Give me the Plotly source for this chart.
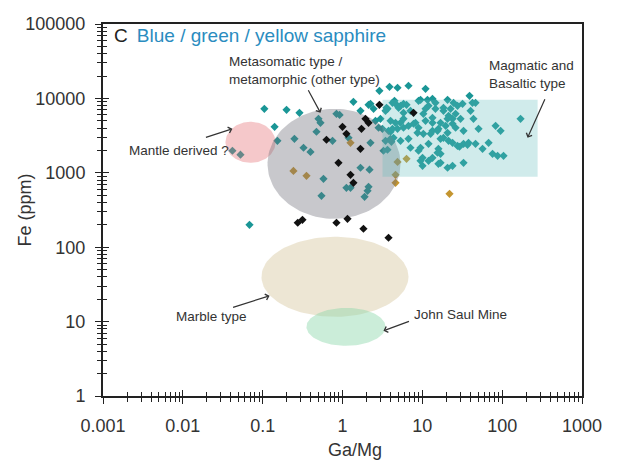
import numpy as np
import plotly.graph_objects as go

# ---------------- data (Ga/Mg ratio, Fe ppm) ----------------
teal_gamg = [0.105, 0.199, 0.289, 0.141, 0.153, 0.25, 0.325, 0.397, 0.472, 0.5, 0.53, 0.0418, 0.0527, 0.0684, 0.578, 0.545,
             1.37, 2.12, 1.68, 3.66, 0.84, 0.92, 0.75, 1.19, 2.59, 2.83, 2.24, 3.66, 4.1, 1.68, 2.18, 1.12, 1.26, 2.12, 2.06, 1.89, 4.0, 4.89,
             2.9, 3.88, 4.89, 6.71, 10.97, 2.24, 3.56, 5.04, 6.34, 5.81, 4.23, 8.96, 11.6, 11.96, 10.3, 14.6, 20.7, 24.6, 27.6, 31.9,
             39, 46.4, 40.2, 18.4, 21.3, 26.1, 2.99, 4.0, 5.33, 6.71, 8.2, 13.4, 16.9, 20.7, 23.9, 30.1, 43.7, 8.7, 10.3, 13.4, 15.9,
             20.7, 26.1, 32.8, 50.6, 82.7, 95.5, 170, 3.16, 4.23, 5.81, 3.46, 4.36, 5.33, 7.1, 8.96, 11.96, 16.9, 21.3, 27.6, 32.8,
             37.9, 46.4, 56.8, 67.6, 75.8, 104, 10.06, 11.96, 16.9, 15.9, 20.7, 23.9, 32.8, 10.06, 3.26,
             42.5, 18.4, 22.6, 14.6, 23.9, 13.4, 19.6, 15.5, 18.4, 23.9, 29.2, 36.8, 15.9, 13.4, 16.9, 87.6,
             4.48, 5.81, 9.5, 13.4, 4.62, 5.33, 7.1, 2.45, 3.46, 10.97, 10.97, 4.62, 5.81, 7.76, 8.96, 12.7, 3.77, 6.71, 4.0, 9.5,
             9.5, 15.5]
teal_fe = [7250, 7030, 6400, 4150, 2690, 2860, 2170, 1910, 3560, 5320, 4700, 1980, 1750, 200, 830, 491,
           9000, 8200, 6810, 7250, 6210, 6000, 2690, 2950, 5000, 4030, 2530, 2040, 2610, 1170, 1100, 629, 629, 648, 573, 476, 3560, 3900,
           12650, 14300, 13900, 14800, 13450, 8460, 7470, 7470, 8200, 6400, 8730, 9290, 9570, 7950, 6210, 7250, 9570, 8730, 7950, 8460,
           10840, 8730, 6810, 6810, 5840, 6210, 5320, 5000, 4700, 4280, 4700, 4700, 4700, 5320, 4560, 5320, 5320, 3450, 3340, 3670, 3900,
           3450, 4030, 3670, 3900, 4280, 3670, 5320, 3900, 3900, 4030, 2690, 2950, 2690, 2170, 1980, 2450, 2860, 2690, 2300, 2450,
           2530, 2450, 2100, 2530, 1800, 1690, 1590, 1450, 1800, 1320, 1170, 1240, 1360, 1240, 1980,
           8730, 7470, 7250, 8730, 5320, 5490, 4280, 3670, 2950, 2530, 2240, 2380, 2100, 1590, 1360, 1690,
           9290, 8460, 9570, 9880, 8460, 7950, 6810, 7250, 6810, 7250, 5000, 4700, 5320, 4560, 4030, 3340, 3670, 2860, 2860, 2170,
           1450, 1860]

black_gamg = [2.9, 7.76, 1.94, 2.12, 1.0, 1.73, 0.63, 1.12, 1.68, 0.89, 1.26, 1.37, 0.315, 0.275, 0.84, 1.155, 1.83, 3.77]
black_fe = [8200, 6400, 5320, 4700, 4150, 3900, 2780, 3340, 2100, 1360, 940, 734, 233, 213, 213, 241, 177, 134]

gold_gamg = [0.243, 0.354, 1.26, 4.89, 6.34, 4.62, 4.62, 21.9]
gold_fe = [1060, 911, 2530, 1400, 1540, 940, 734, 522]

# field regions: (Ga/Mg min, Ga/Mg max), (Fe min, Fe max)
mantle_x, mantle_y = [0.0342, 0.145], [1360, 4850]
meta_x, meta_y = [0.115, 5.33], [241, 7250]
magm_x, magm_y = [3.17, 278], [884, 9570]
marble_x, marble_y = [0.0966, 6.71], [11.6, 138]
jsm_x, jsm_y = [0.354, 3.46], [4.73, 15.3]

x_tickvals = [0.001, 0.01, 0.1, 1, 10, 100, 1000]
x_ticktext = ["0.001", "0.01", "0.1", "1", "10", "100", "1000"]
y_tickvals = [1, 10, 100, 1000, 10000, 100000]
y_ticktext = ["1", "10", "100", "1000", "10000", "100000"]

FONT = "Liberation Sans, Arial, sans-serif"
TEAL = "#1a9696"
GOLD = "#c4952f"
BLACK = "#111111"


def ellipse(xr, yr, n=120):
    lx, ly = np.log10(xr), np.log10(yr)
    cx, cy = lx.mean(), ly.mean()
    rx, ry = (lx[1] - lx[0]) / 2, (ly[1] - ly[0]) / 2
    t = np.linspace(0, 2 * np.pi, n)
    return 10 ** (cx + rx * np.cos(t)), 10 ** (cy + ry * np.sin(t))


def region_trace(xs, ys, color):
    return go.Scatter(x=xs, y=ys, mode="lines", fill="toself", fillcolor=color,
                      line=dict(width=0), hoverinfo="skip", showlegend=False)


fig = go.Figure()
fig.add_trace(go.Scatter(x=teal_gamg, y=teal_fe, mode="markers", showlegend=False,
                         marker=dict(symbol="diamond", size=6.3, color=TEAL, line=dict(width=0))))
fig.add_trace(go.Scatter(x=gold_gamg, y=gold_fe, mode="markers", showlegend=False,
                         marker=dict(symbol="diamond", size=6.3, color=GOLD, line=dict(width=0))))

ex, ey = ellipse(mantle_x, mantle_y)
fig.add_trace(region_trace(ex, ey, "rgba(230,110,115,0.38)"))
ex, ey = ellipse(meta_x, meta_y)
fig.add_trace(region_trace(ex, ey, "rgba(110,110,122,0.38)"))
fig.add_trace(region_trace([magm_x[0], magm_x[1], magm_x[1], magm_x[0], magm_x[0]],
                           [magm_y[0], magm_y[0], magm_y[1], magm_y[1], magm_y[0]], "rgba(100,190,190,0.30)"))
ex, ey = ellipse(marble_x, marble_y)
fig.add_trace(region_trace(ex, ey, "rgba(215,200,160,0.45)"))
ex, ey = ellipse(jsm_x, jsm_y)
fig.add_trace(region_trace(ex, ey, "rgba(140,215,170,0.45)"))

fig.add_trace(go.Scatter(x=black_gamg, y=black_fe, mode="markers", showlegend=False,
                         marker=dict(symbol="diamond", size=6.3, color=BLACK, line=dict(width=0))))

# invisible trace for the inner-tick overlay axes
fig.add_trace(go.Scatter(x=[1], y=[1], xaxis="x2", yaxis="y2", mode="markers",
                         marker=dict(opacity=0), hoverinfo="skip", showlegend=False))

minor_x = [m * 10.0 ** k for k in range(-3, 3) for m in range(2, 10)]
minor_y = [m * 10.0 ** k for k in range(0, 5) for m in range(2, 10)]

axis_common = dict(type="log", showgrid=False, zeroline=False, tickcolor="#222", tickwidth=1.4)

fig.update_layout(
    width=618, height=462, autosize=False,
    margin=dict(l=103, r=36, t=24, b=66),
    paper_bgcolor="white", plot_bgcolor="white",
    font=dict(family=FONT, color="#333"),
    xaxis=dict(**axis_common, range=[-3, 3], showline=True, linewidth=2, linecolor="#222", mirror=True,
               ticks="outside", ticklen=6, tickmode="array", tickvals=x_tickvals, ticktext=x_ticktext,
               tickfont=dict(size=18, color="#333", family=FONT), ticklabelstandoff=6,
               minor=dict(ticks="outside", ticklen=4, tickwidth=1.2, tickcolor="#222", tickmode="array", tickvals=minor_x)),
    yaxis=dict(**axis_common, range=[0, 5], showline=True, linewidth=2, linecolor="#222", mirror=True,
               ticks="outside", ticklen=6, tickmode="array", tickvals=y_tickvals, ticktext=y_ticktext,
               tickfont=dict(size=18, color="#333", family=FONT), ticklabelstandoff=6,
               minor=dict(ticks="outside", ticklen=4, tickwidth=1.2, tickcolor="#222", tickmode="array", tickvals=minor_y)),
    xaxis2=dict(**axis_common, range=[-3, 3], overlaying="x", anchor="y", side="bottom", showline=False,
                ticks="inside", ticklen=6, tickmode="array", tickvals=x_tickvals, showticklabels=False,
                minor=dict(ticks="inside", ticklen=4, tickwidth=1.2, tickcolor="#222", tickmode="array", tickvals=minor_x)),
    yaxis2=dict(**axis_common, range=[0, 5], overlaying="y", anchor="x", side="left", showline=False,
                ticks="inside", ticklen=6, tickmode="array", tickvals=y_tickvals, showticklabels=False,
                minor=dict(ticks="inside", ticklen=4, tickwidth=1.2, tickcolor="#222", tickmode="array", tickvals=minor_y)),
)

ann_font = dict(family=FONT, size=13.5, color="#333")
annotations = [
    dict(xref="paper", yref="paper", x=0.018, y=0.970, xanchor="left", yanchor="middle", showarrow=False,
         text="<span style='color:#222'>C</span>\u2009\u00a0<span style='color:#2a8cc0'>Blue / green / yellow sapphire</span>",
         font=dict(family=FONT, size=19)),
    dict(xref="paper", yref="paper", x=0.526, y=-0.145, xanchor="center", yanchor="middle", showarrow=False,
         text="Ga/Mg", font=dict(family=FONT, size=18, color="#333")),
    dict(xref="paper", yref="paper", x=-0.162, y=0.5, xanchor="center", yanchor="middle", showarrow=False,
         text="Fe (ppm)", textangle=-90, font=dict(family=FONT, size=18, color="#333")),
    dict(xref="paper", yref="paper", x=0.259, y=0.875, xanchor="left", yanchor="middle", showarrow=False, align="left",
         text="Metasomatic type /<br>metamorphic (other type)", font=ann_font),
    dict(xref="paper", yref="paper", x=0.802, y=0.864, xanchor="left", yanchor="middle", showarrow=False, align="left",
         text="Magmatic and<br>Basaltic type", font=ann_font),
    dict(xref="paper", yref="paper", x=0.050, y=0.661, xanchor="left", yanchor="middle", showarrow=False,
         text="Mantle derived ?", font=ann_font),
    dict(xref="paper", yref="paper", x=0.148, y=0.215, xanchor="left", yanchor="middle", showarrow=False,
         text="Marble type", font=ann_font),
    dict(xref="paper", yref="paper", x=0.645, y=0.218, xanchor="left", yanchor="middle", showarrow=False,
         text="John Saul Mine", font=ann_font),
]

# arrows: tip (Ga/Mg, Fe) and tail offset in pixels
arrow_tips = [(0.53, 6400, -13, -24), (208, 2950, 18, -40), (0.0418, 3900, -28, 9),
              (0.122, 22.2, -38, 12), (3.26, 7.52, 27, -10)]
for ax_, ay_, dx, dy in arrow_tips:
    annotations.append(dict(xref="x", yref="y", x=np.log10(ax_), y=np.log10(ay_), ax=dx, ay=dy,
                            text="", showarrow=True, arrowhead=4, arrowsize=1, arrowwidth=1.2,
                            arrowcolor="#333"))

fig.update_layout(annotations=annotations)
fig.write_html("out.html")
